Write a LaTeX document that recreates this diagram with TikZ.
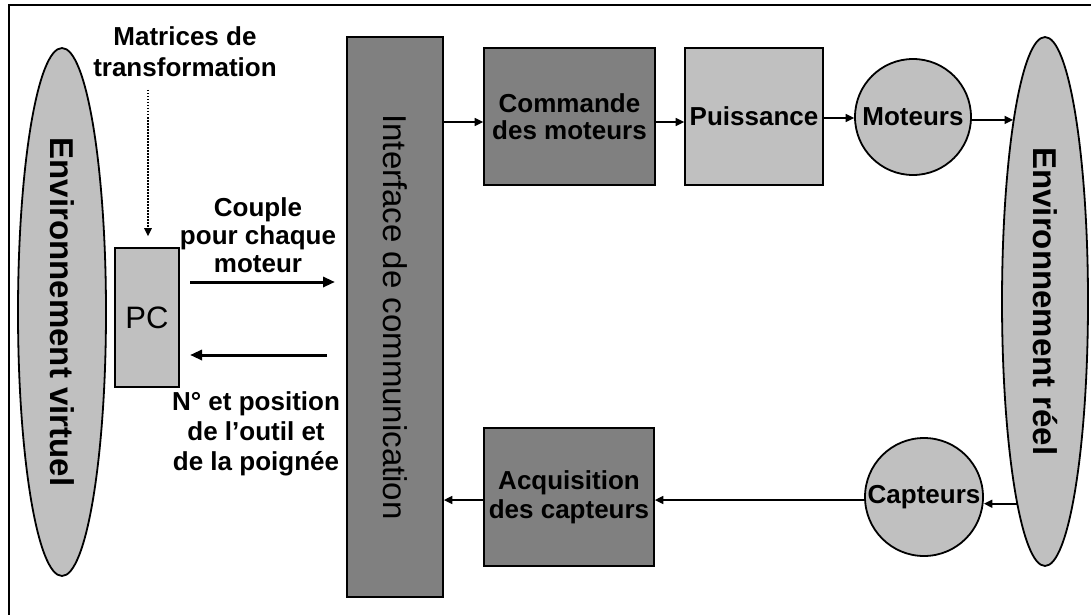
\documentclass[tikz,border=0pt]{standalone}
\usepackage{fontspec}
\setmainfont{Liberation Sans}
\usepackage{graphicx}
\usetikzlibrary{arrows.meta,shapes.geometric}
\definecolor{darkbox}{HTML}{808080}
\definecolor{lightbox}{HTML}{C0C0C0}
\tikzset{
  blk/.style={draw=black, line width=1.8pt, inner sep=0pt},
  darkrect/.style={blk, rectangle, fill=darkbox},
  lightrect/.style={blk, rectangle, fill=lightbox},
  envshape/.style={blk, ellipse, fill=lightbox},
  roundbox/.style={blk, circle, fill=lightbox},
  boldlbl/.style={align=center, inner sep=0pt, font=\fontsize{26}{#1}\selectfont\bfseries},
  boldlbl/.default=26,
  conn/.style={line width=1.6pt, -{Triangle[length=8.5pt,width=8pt]}},
  bigconn/.style={line width=3pt, -{Triangle[length=12pt,width=10pt]}},
  dotconn/.style={line width=1.5pt, dash pattern=on 1.5pt off 1.5pt, -{Triangle[length=8pt,width=7.5pt]}},
}
\begin{document}
\begin{tikzpicture}[x=1pt,y=-1pt]
\useasboundingbox (0,0) rectangle (1091,615);
\fill[white] (0,0) rectangle (1091,615);
\draw[line width=2.4pt] (9,625) -- (9,5) -- (1100,5);

% environments
\node[envshape, minimum width=88, minimum height=528] (envv) at (62,312)
  {\rotatebox{-90}{\fontsize{33}{33}\selectfont\bfseries Environnement virtuel}};
\node[envshape, minimum width=86, minimum height=529] (envr) at (1045,301.5)
  {\rotatebox{-90}{\fontsize{33}{33}\selectfont\bfseries Environnement r\'eel}};

% PC and interface
\node[lightrect, minimum width=64, minimum height=139] (pc) at (147,317.5)
  {\fontsize{31}{31}\selectfont PC};
\node[darkrect, minimum width=96, minimum height=560] (iface) at (395,317)
  {\rotatebox{-90}{\fontsize{33}{33}\selectfont Interface de communication}};

% top row
\node[darkrect, minimum width=171, minimum height=137, boldlbl=26.5] (cmd) at (569.5,116.5)
  {Commande\\des moteurs};
\node[lightrect, minimum width=138, minimum height=137, boldlbl] (pui) at (754,116.5)
  {Puissance};
\node[roundbox, minimum size=116, boldlbl] (mot) at (913,117) {Moteurs};

% bottom row
\node[darkrect, minimum width=170, minimum height=138, boldlbl=29] (acq) at (569,497)
  {Acquisition\\des capteurs};
\node[roundbox, minimum size=118, boldlbl] (cap) at (924,497) {Capteurs};

% free labels
\node[boldlbl=31] (mtx) at (185,52) {Matrices de\\transformation};
\node[boldlbl=28] (cpl) at (258,235) {Couple\\pour chaque\\moteur};
\node[boldlbl=30] (npos) at (256,434) {N° et position\\de l’outil et\\de la poignée};

% helper coordinates
\coordinate (r1) at (0,122);
\coordinate (r2) at (0,118);
\coordinate (r3) at (0,500);
\coordinate (dt) at (148,90);
\coordinate (ca1) at (190,282);
\coordinate (ca2) at (335,282);
\coordinate (cb1) at (327,355);
\coordinate (cb2) at (190,355);

% connectors
\draw[conn] (iface.east |- r1) -- (cmd.west |- r1);
\draw[conn] (cmd.east |- r1) -- (pui.west |- r1);
\draw[conn] (pui.east |- r2) -- (mot.west |- r2);
\draw[conn] (mot.east |- envr.100) -- (envr.100);
\draw[conn] (envr.262) -- (envr.262 -| cap.east);
\draw[conn] (cap.west |- r3) -- (acq.east |- r3);
\draw[conn] (acq.west |- r3) -- (iface.east |- r3);
\draw[dotconn, shorten >=11pt] (dt) -- (dt |- pc.north);
\draw[bigconn] (ca1) -- (ca2);
\draw[bigconn] (cb1) -- (cb2);
\end{tikzpicture}
\end{document}
